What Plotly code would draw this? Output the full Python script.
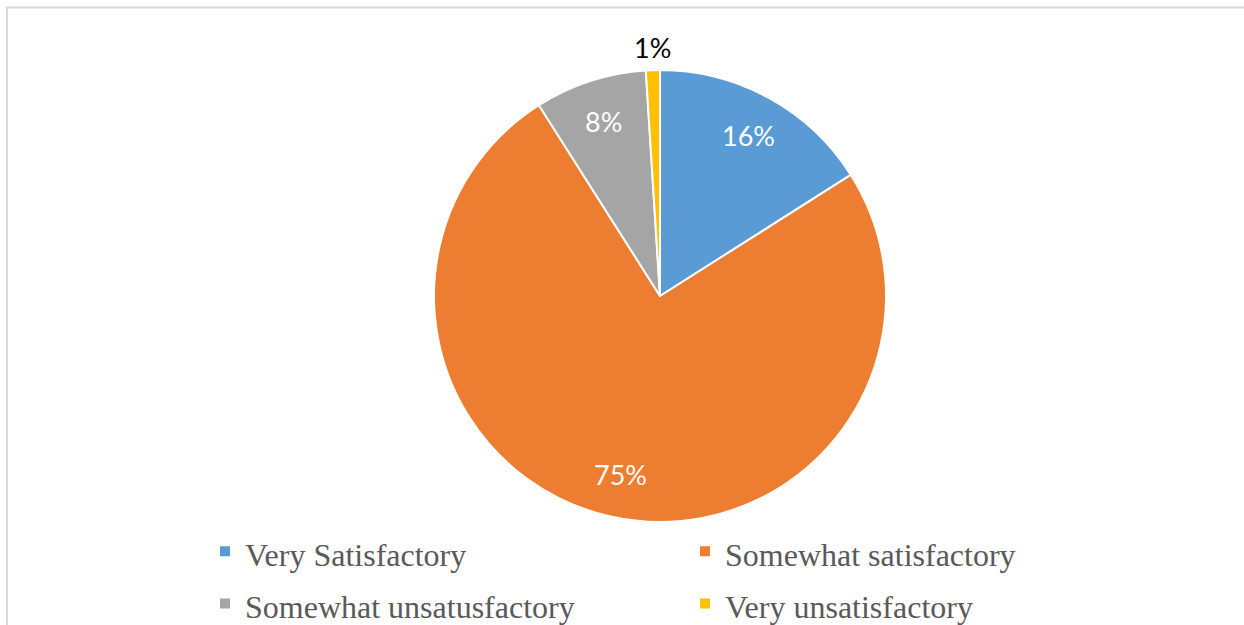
import math
import plotly.graph_objects as go

categories = ["Very Satisfactory", "Somewhat satisfactory", "Somewhat unsatusfactory", "Very unsatisfactory"]
values = [16, 75, 8, 1]
colors = ["#5B9BD5", "#ED7D31", "#A5A5A5", "#FFC000"]

W, H = 1244, 625
cx, cy, r = 660, 296, 226          # pie centre and radius in pixels
inside_frac = 0.81                 # label radius for inside labels (fraction of r)
outside_frac = 1.10                # label radius for small slices
small_limit = 0.03                 # slices smaller than this get an outside label

fig = go.Figure(go.Pie(
    labels=[f'<span style="font-size:32px">{c}</span>' for c in categories],
    values=values,
    sort=False,
    direction="clockwise",
    rotation=0,
    marker=dict(colors=colors, line=dict(color="white", width=2)),
    textinfo="none",
    domain=dict(x=[(cx - r) / W, (cx + r) / W], y=[1 - (cy + r) / H, 1 - (cy - r) / H]),
    hoverinfo="percent",
))

# data labels placed along each slice's bisector
total = sum(values)
cum = 0
annotations = []
for v in values:
    frac = v / total
    mid = (cum + frac / 2) * 2 * math.pi
    cum += frac
    small = frac < small_limit
    rr = r * (outside_frac if small else inside_frac)
    px = cx + rr * math.sin(mid)
    py = cy - rr * math.cos(mid)
    annotations.append(dict(
        x=px / W, y=1 - py / H, xref="paper", yref="paper",
        text=f"{round(frac * 100)}%", showarrow=False,
        xanchor="center", yanchor="middle",
        font=dict(family="Lato", size=27, color="black" if small else "white"),
    ))

fig.update_layout(
    width=W, height=H,
    margin=dict(l=0, r=0, t=0, b=0, autoexpand=False),
    paper_bgcolor="white",
    showlegend=True,
    legend=dict(
        orientation="h",
        x=(226 - 21) / W, xanchor="left",
        y=1 - 520 / H, yanchor="top",
        entrywidth=435, entrywidthmode="pixels",
        font=dict(family="Liberation Serif", size=38, color="#595959"),
        traceorder="normal",
        bgcolor="rgba(0,0,0,0)",
    ),
    annotations=annotations,
    shapes=[dict(type="rect", xref="paper", yref="paper",
                 x0=7 / W, x1=1.01, y0=-0.05, y1=1 - 7.5 / H,
                 line=dict(color="#D9D9D9", width=2), layer="below")],
)

fig.write_html("out.html", config={"displayModeBar": False},
               post_script="document.body.style.margin='0';document.body.style.overflow='hidden';")
